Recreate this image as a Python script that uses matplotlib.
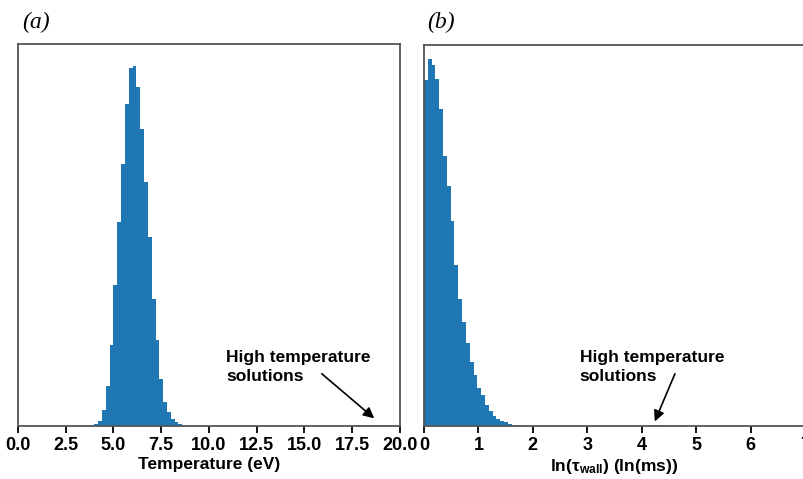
import numpy as np
import matplotlib
matplotlib.use('Agg')
import matplotlib.pyplot as plt

plt.rcParams['font.family'] = ['Liberation Sans', 'DejaVu Sans']
plt.rcParams['font.weight'] = 'bold'
plt.rcParams['mathtext.default'] = 'regular'

# histogram counts (arbitrary units, y axis unlabelled)
# temperature: 100 bins of 0.2 eV over 0-20 eV
temp_counts = [
    0, 0, 0, 0, 0, 0, 0, 0, 0, 0,
    0, 0, 0, 0, 0, 0, 0, 0.2, 0.4, 1.0,
    2.0, 5.3, 16, 40, 81, 141, 204, 262, 322, 358,
    360, 339, 297, 244, 189, 127, 86, 47, 24, 14,
    7.3, 4.0, 2.0, 0.8, 0.5, 0.4, 0.3, 0.3, 0.2, 0.3,
    0.2, 0.2, 0.3, 0.2, 0.2, 0.2, 0.3, 0.2, 0.2, 0.2,
    0.3, 0.2, 0.2, 0.2, 0.2, 0.3, 0.2, 0.2, 0.2, 0.2,
    0.2, 0.3, 0.2, 0.2, 0.2, 0.2, 0.2, 0.2, 0.2, 0.3,
    0.2, 0.2, 0.2, 0.3, 0.2, 0.2, 0.3, 0.3, 0.4, 0.6,
    0.7, 0.8, 0.8, 0.8, 0.7, 0.8, 0.7, 0.6, 0.5, 0.4,
]
temp_range = (0, 20)

# ln(tau_wall): 100 bins of 0.07 over 0-7
tau_counts = [
    345.7, 366.7, 360.7, 346.7, 316.7, 269.7, 239.7, 204.7, 160.7, 126.7,
    103.7, 82.7, 63.7, 50.7, 37.7, 30.7, 20.7, 14.7, 9.7, 6.7,
    4.7, 3.7, 1.7, 0.7, 0.7, 0.4, 0.3, 0.3, 0.2, 0.2,
    0.2, 0.2, 0.2, 0.2, 0.1, 0.1, 0.1, 0.1, 0.1, 0.1,
    0.1, 0.1, 0.1, 0.1, 0.1, 0.1, 0.1, 0.1, 0.1, 0.1,
    0.1, 0.1, 0.1, 0.1, 0.1, 0.2, 0.2, 0.3, 0.4, 0.6,
    0.8, 0.8, 0.7, 0.3, 0, 0, 0, 0, 0, 0,
    0, 0, 0, 0, 0, 0, 0, 0, 0, 0,
    0, 0, 0, 0, 0, 0, 0, 0, 0, 0,
    0, 0, 0, 0, 0, 0, 0, 0, 0, 0,
]
tau_range = (0, 7)

temp_ticks = [0.0, 2.5, 5.0, 7.5, 10.0, 12.5, 15.0, 17.5, 20.0]
tau_ticks = [0, 1, 2, 3, 4, 5, 6, 7]

fig = plt.figure(figsize=(8.04, 4.79), dpi=100)
ax1 = fig.add_axes([18/804, 53/479, 382/804, 382/479])
ax2 = fig.add_axes([424/804, 53/479, 381/804, 381/479])

def draw_hist(ax, counts, rng):
    edges = np.linspace(rng[0], rng[1], len(counts) + 1)
    ax.bar(edges[:-1], counts, width=np.diff(edges), align='edge',
           color='#1f77b4', linewidth=0)
    ax.set_xlim(rng)
    ax.set_yticks([])
    for s in ax.spines.values():
        s.set_color('#555555')
        s.set_linewidth(1.3)
    ax.tick_params(axis='x', direction='out', length=5, width=1.3,
                   color='black', labelsize=13, pad=3)

draw_hist(ax1, temp_counts, temp_range)
ax1.set_ylim(0, 382)
ax1.set_xticks(temp_ticks)
ax1.set_xticklabels([f'{t:.1f}' for t in temp_ticks], fontweight='bold')
ax1.set_xlabel('Temperature (eV)', fontsize=12.5, fontweight='bold', labelpad=2)

draw_hist(ax2, tau_counts, tau_range)
ax2.set_ylim(0, 381)
ax2.set_xticks(tau_ticks)
ax2.set_xticklabels([str(t) for t in tau_ticks], fontweight='bold')
ax2.set_xlabel(r'ln(τ$_{wall}$) (ln(ms))', fontsize=12.5, fontweight='bold', labelpad=2)

arrow = dict(arrowstyle='-|>', color='black', lw=1.2, mutation_scale=16,
             shrinkA=0, shrinkB=0)
mixed = ('data', 'axes fraction')

ax1.text(10.9, 0.11, 'High temperature\nsolutions', transform=ax1.get_xaxis_transform(),
         fontsize=12.5, fontweight='bold', ha='left', va='bottom', linespacing=1.3)
ax1.annotate('', xy=(18.65, 0.02), xytext=(15.9, 0.137),
             xycoords=mixed, textcoords=mixed, arrowprops=arrow)

ax2.text(2.86, 0.11, 'High temperature\nsolutions', transform=ax2.get_xaxis_transform(),
         fontsize=12.5, fontweight='bold', ha='left', va='bottom', linespacing=1.3)
ax2.annotate('', xy=(4.24, 0.012), xytext=(4.61, 0.137),
             xycoords=mixed, textcoords=mixed, arrowprops=arrow)

serif = ['Liberation Serif', 'DejaVu Serif']
fig.text(22/804, 1 - 28/479, '(a)', family=serif, style='italic',
         fontweight='normal', fontsize=17)
fig.text(427/804, 1 - 28/479, '(b)', family=serif, style='italic',
         fontweight='normal', fontsize=17)

fig.savefig('out.png', dpi=100)
